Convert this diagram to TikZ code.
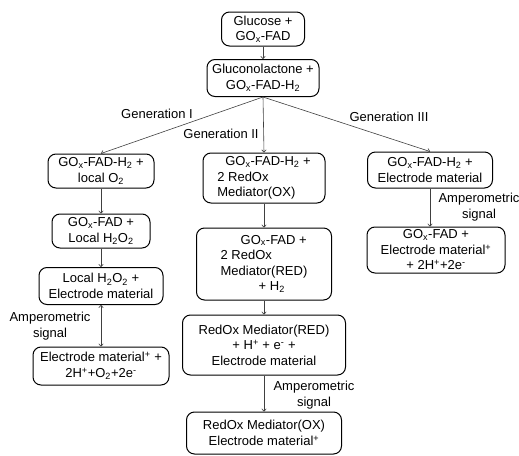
\documentclass[tikz,border=0pt]{standalone}
\usepackage{fontspec}
\setmainfont{Liberation Sans}
\usetikzlibrary{arrows.meta}

\tikzset{
  stepbox/.style={draw, line width=1pt, rounded corners=8pt, align=center, inner sep=1pt},
  link/.style={draw=black!75, line width=0.6pt, -{To[length=3pt,width=5pt]}},
  twoway/.style={link, {To[length=3pt,width=5pt]}-{To[length=3pt,width=5pt]}},
  note/.style={align=center}
}

\newcommand{\gox}{GO\textsubscript{x}}

\begin{document}
\begin{tikzpicture}[x=1pt, y=-1pt, font=\fontsize{13}{15.5}\selectfont]

        % Fix the frame
        \useasboundingbox (0,0) rectangle (519,455);

        % Top of the chain
        \node[stepbox, minimum width=83, minimum height=34] (glucose) at (263,29) {Glucose +\\\gox-FAD};
        \node[stepbox, minimum width=112, minimum height=37] (lactone) at (263,78) {Gluconolactone +\\\gox-FAD-H\textsubscript{2}};

        % Generation I
        \node[stepbox, minimum width=106, minimum height=34] (oxyA) at (101,171) {\gox-FAD-H\textsubscript{2} +\\local O\textsubscript{2}};
        \node[stepbox, minimum width=98, minimum height=34] (peroxA) at (101,231) {\gox-FAD +\\Local H\textsubscript{2}O\textsubscript{2}};
        \node[stepbox, minimum width=124, minimum height=37] (electA) at (101,286) {Local H\textsubscript{2}O\textsubscript{2} +\\Electrode material};
        \node[stepbox, minimum width=136, minimum height=38] (endA) at (101,366) {Electrode material\textsuperscript{+} +\\2H\textsuperscript{+}+O\textsubscript{2}+2e\textsuperscript{-}};

        % Generation II
        \node[stepbox, minimum width=122, minimum height=50, align=left] (mediB) at (264,178) {\hspace{8pt}\gox-FAD-H\textsubscript{2} +\\2 RedOx\\Mediator(OX)};
        \node[stepbox, minimum width=135, minimum height=72, align=left] (reduB) at (264,264) {\hspace{20pt}\gox-FAD +\\2 RedOx\\Mediator(RED)\\\hspace{38pt}+ H\textsubscript{2}};
        \node[stepbox, minimum width=163, minimum height=60] (electB) at (264,345) {RedOx Mediator(RED)\\+ H\textsuperscript{+} + e\textsuperscript{-} +\\Electrode material};
        \node[stepbox, minimum width=155, minimum height=42] (endB) at (264,433) {RedOx Mediator(OX)\\Electrode material\textsuperscript{+}};

        % Generation III
        \node[stepbox, minimum width=125, minimum height=36] (electC) at (430,170) {\gox-FAD-H\textsubscript{2} +\\Electrode material};
        \node[stepbox, minimum width=138, minimum height=46] (endC) at (436,250) {\gox-FAD +\\Electrode material\textsuperscript{+}\\+ 2H\textsuperscript{+}+2e\textsuperscript{-}};

        % Labels
        \node (genI) at (157,114) {Generation I};
        \node (genII) at (221,134) {Generation II};
        \node (genIII) at (389,117) {Generation III};
        \node[note] (signalA) at (50,326) {Amperometric\\signal};
        \node[note] (signalB) at (314,395) {Amperometric\\signal};
        \node[note] (signalC) at (479,207) {Amperometric\\signal};

        % Connectors
        \draw[link] (glucose) -- (lactone);
        \draw[link] (lactone.south) -- (oxyA.north);
        \draw[link] (lactone.south) -- (mediB.north);
        \draw[link] (lactone.south) -- (electC.north);
        \draw[link] (oxyA) -- (peroxA);
        \draw[link] (peroxA) -- (electA);
        \draw[twoway] (electA) -- (endA);
        \draw[link] (mediB) -- (reduB);
        \draw[link] (reduB) -- (electB);
        \draw[link] (electB) -- (endB);
        \draw[link] (electC.south) -- (electC.south |- endC.north);

    \end{tikzpicture}
\end{document}
